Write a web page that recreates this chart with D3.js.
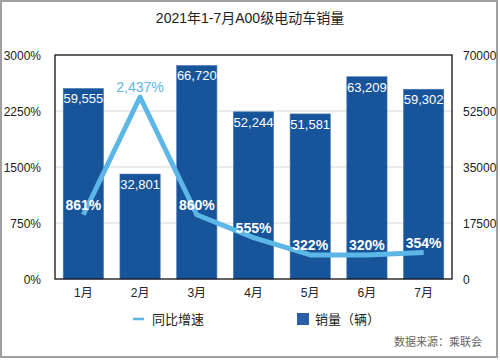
<!DOCTYPE html>
<html>
<head>
<meta charset="utf-8">
<script src="https://cdn.jsdelivr.net/npm/d3@7"></script>
<style>
body { margin: 0; background: #fff; }
text { font-family: "Liberation Sans", "Noto Sans CJK SC", sans-serif; }
</style>
</head>
<body>
<script>
const months = ["1月", "2月", "3月", "4月", "5月", "6月", "7月"];
const sales = [59555, 32801, 66720, 52244, 51581, 63209, 59302];
const growth = [861, 2437, 860, 555, 322, 320, 354];
const leftTicks = [0, 750, 1500, 2250, 3000];
const rightTicks = [0, 17500, 35000, 52500, 70000];

const w = 500, h = 361;
const padL = 55, padR = 452, padT = 55, padB = 279;
const barColor = "#17549a";
const lineColor = "#5cb6e6";

const svg = d3.select("body").append("svg")
  .attr("width", w)
  .attr("height", h);

// outer border
svg.append("rect")
  .attr("x", 1).attr("y", 1)
  .attr("width", 496).attr("height", 356)
  .attr("fill", "none")
  .attr("stroke", "#a0a0a0")
  .attr("stroke-width", 2);

svg.append("text")
  .attr("x", w / 2).attr("y", 23)
  .attr("text-anchor", "middle")
  .style("font-size", "14px")
  .attr("fill", "#222")
  .text("2021年1-7月A00级电动车销量");

const x = d3.scaleBand()
  .domain(months)
  .range([padL, padR])
  .paddingInner(0.29)
  .paddingOuter(0.145);

const yL = d3.scaleLinear().domain([0, 3000]).range([padB, padT]);
const yR = d3.scaleLinear().domain([0, 70000]).range([padB, padT]);

// grid
svg.append("g")
  .selectAll("line")
  .data(leftTicks.slice(1, -1))
  .enter()
  .append("line")
  .attr("x1", padL).attr("x2", padR)
  .attr("y1", d => yL(d)).attr("y2", d => yL(d))
  .attr("stroke", "#d8d8d8")
  .attr("stroke-width", 1);

// left axis
const yAxisL = d3.axisLeft(yL).tickValues(leftTicks).tickFormat(d => d + "%").tickSize(0).tickPadding(14);
svg.append("g")
  .attr("transform", "translate(" + padL + ",0)")
  .style("font-size", "12px")
  .call(yAxisL)
  .call(g => g.select(".domain").remove())
  .selectAll("text").attr("fill", "#222").attr("dy", "0.4em");

// right axis
const yAxisR = d3.axisRight(yR).tickValues(rightTicks).tickFormat(d => String(d)).tickSize(0).tickPadding(11);
svg.append("g")
  .attr("transform", "translate(" + padR + ",0)")
  .style("font-size", "12px")
  .call(yAxisR)
  .call(g => g.select(".domain").remove())
  .selectAll("text").attr("fill", "#222").attr("dy", "0.4em");

// bars
svg.selectAll("rect.bar")
  .data(sales)
  .enter()
  .append("rect")
  .attr("class", "bar")
  .attr("x", (d, i) => x(months[i]))
  .attr("y", d => yR(d))
  .attr("width", x.bandwidth())
  .attr("height", d => padB - yR(d))
  .attr("fill", barColor)
  .attr("stroke", "#4a7bb5")
  .attr("stroke-width", 0.6);

svg.selectAll("text.barlabel")
  .data(sales)
  .enter()
  .append("text")
  .attr("class", "barlabel")
  .attr("x", (d, i) => x(months[i]) + x.bandwidth() / 2)
  .attr("y", d => yR(d) + 15)
  .attr("text-anchor", "middle")
  .style("font-size", "13px")
  .attr("fill", "#fff")
  .text(d => d3.format(",")(d));

// plot frame
svg.append("rect")
  .attr("x", padL).attr("y", padT)
  .attr("width", padR - padL).attr("height", padB - padT)
  .attr("fill", "none")
  .attr("stroke", "#111")
  .attr("stroke-width", 1.3);

// growth line
const line = d3.line()
  .x((d, i) => x(months[i]) + x.bandwidth() / 2)
  .y(d => yL(d));

svg.append("path")
  .datum(growth)
  .attr("d", line)
  .attr("fill", "none")
  .attr("stroke", lineColor)
  .attr("stroke-width", 5)
  .attr("stroke-linejoin", "round");

svg.selectAll("text.linelabel")
  .data(growth)
  .enter()
  .append("text")
  .attr("class", "linelabel")
  .attr("x", (d, i) => x(months[i]) + x.bandwidth() / 2)
  .attr("y", d => yL(d) - 5)
  .attr("text-anchor", "middle")
  .style("font-size", "14px")
  .style("font-weight", (d, i) => i == 1 ? "normal" : "bold")
  .attr("fill", (d, i) => i == 1 ? lineColor : "#fff")
  .text(d => d3.format(",")(d) + "%");

// x axis labels
svg.selectAll("text.month")
  .data(months)
  .enter()
  .append("text")
  .attr("class", "month")
  .attr("x", d => x(d) + x.bandwidth() / 2)
  .attr("y", 297)
  .attr("text-anchor", "middle")
  .style("font-size", "12px")
  .attr("fill", "#222")
  .text(d => d);

// legend
svg.append("line")
  .attr("x1", 133).attr("x2", 144)
  .attr("y1", 319).attr("y2", 319)
  .attr("stroke", lineColor)
  .attr("stroke-width", 2.5);
svg.append("text")
  .attr("x", 152).attr("y", 324)
  .style("font-size", "13px")
  .attr("fill", "#222")
  .text("同比增速");

svg.append("rect")
  .attr("x", 297).attr("y", 313)
  .attr("width", 12).attr("height", 12)
  .attr("fill", "#2a5fa8");
svg.append("text")
  .attr("x", 315).attr("y", 324)
  .style("font-size", "13px")
  .attr("fill", "#222")
  .text("销量（辆）");

svg.append("text")
  .attr("x", 482).attr("y", 346)
  .attr("text-anchor", "end")
  .style("font-size", "11px")
  .attr("fill", "#666")
  .text("数据来源：乘联会");
</script>
</body>
</html>
